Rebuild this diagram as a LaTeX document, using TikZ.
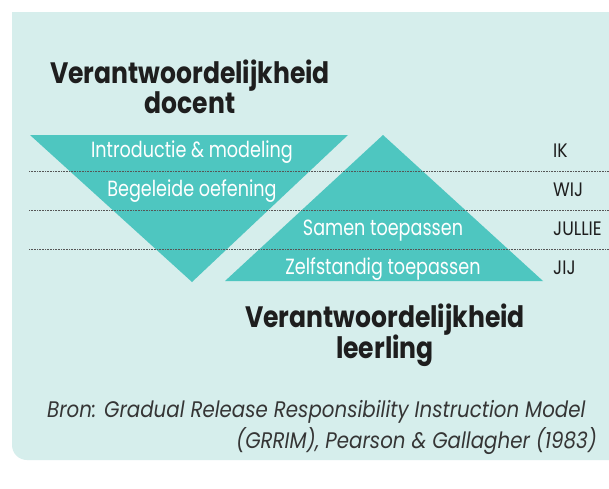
\documentclass[tikz,border=0pt]{standalone}
\usepackage{fontspec}
\setmainfont{Poppins}
\newfontfamily\grrfont{Poppins}[FakeStretch=0.80]
\newfontfamily\grrhead{Poppins}[FakeStretch=0.85]
\newfontfamily\grrwide{Poppins}[FakeStretch=0.88]
\definecolor{mint}{HTML}{D6EEEC}
\definecolor{triteal}{HTML}{4EC6C0}
\definecolor{inkgray}{HTML}{1E1E1E}
\tikzset{>=latex}

\begin{document}
\begin{tikzpicture}[x=1pt,y=-1pt]
\useasboundingbox (0,0) rectangle (609,488);
\clip (0,0) rectangle (609,488);
\fill[white] (0,0) rectangle (609,488);
\fill[mint] (12,12) rectangle (640,440);
\fill[mint,rounded corners=15pt] (12,400) rectangle (640,460);

% the two triangles
\fill[triteal] (30,135) -- (348,135) -- (192,282) -- cycle;
\fill[triteal] (225,281) -- (543,281) -- (383,135) -- cycle;

\coordinate (s1l) at (29,171);
\coordinate (s1r) at (609,171);
\coordinate (s2l) at (29,210);
\coordinate (s2r) at (609,210);
\coordinate (s3l) at (29,249);
\coordinate (s3r) at (609,249);
\begin{scope}[every path/.style={draw=inkgray!75,line width=0.8pt,dash pattern=on 0.8pt off 0.8pt}]
    \path (s1l) -- (s1r);
    \path (s2l) -- (s2r);
    \path (s3l) -- (s3r);
\end{scope}

\begin{scope}[every node/.style={inner sep=0pt,anchor=base,text=inkgray,font=\grrhead\bfseries\fontsize{29.5}{29.5}\selectfont}]
\node (T1) at (190,83) {Verantwoordelijkheid};
\node (T2) at (190,113) {docent};
\node (B1) at (385,327) {Verantwoordelijkheid};
\node (B2) at (385,358) {leerling};
\end{scope}

\begin{scope}[every node/.style={inner sep=0pt,anchor=base,text=white,font=\grrfont\fontsize{22}{22}\selectfont}]
\node (S1) at (192,157) {Introductie \& modeling};
\node (S2) at (192,196) {Begeleide oefening};
\node (S3) at (383,235) {Samen toepassen};
\node (S4) at (383,274) {Zelfstandig toepassen};
\end{scope}

\begin{scope}[every node/.style={inner sep=0pt,anchor=base west,text=inkgray,font=\grrwide\fontsize{19.5}{19.5}\selectfont}]
\node (IK) at (553,157) {IK};
\node (WIJ) at (553,196) {WIJ};
\node (JULLIE) at (553,235) {JULLIE};
\node (JIJ) at (553,274) {JIJ};
\end{scope}

\begin{scope}[every node/.style={inner sep=0pt,text=inkgray!90,font=\grrwide\itshape\fontsize{22.5}{22.5}\selectfont}]
\node[anchor=base west] (bron) at (47,417) {Bron: Gradual Release Responsibility Instruction Model};
\node[anchor=base east] (grrim) at (597,448) {(GRRIM), Pearson \& Gallagher (1983)};
\end{scope}
\end{tikzpicture}
\end{document}
